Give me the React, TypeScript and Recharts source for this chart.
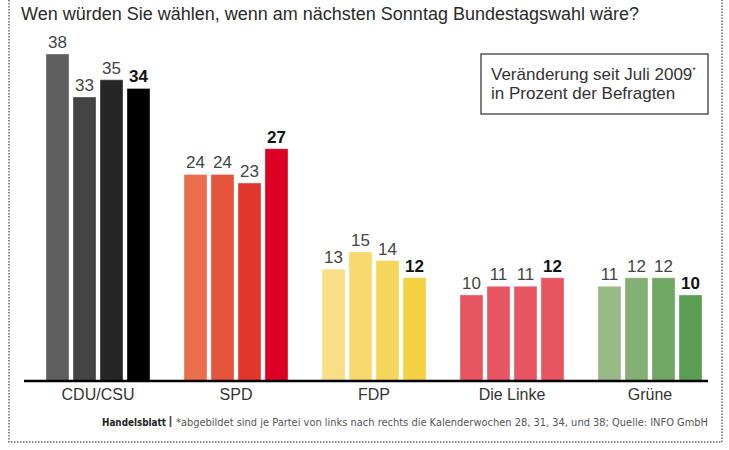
import React from 'react';
import { BarChart, Bar, XAxis, YAxis, Cell, LabelList } from 'recharts';

const parties = ['CDU/CSU', 'SPD', 'FDP', 'Die Linke', 'Grüne'];
const kw28 = [38, 24, 13, 10, 11];
const kw31 = [33, 24, 15, 11, 12];
const kw34 = [35, 23, 14, 11, 12];
const kw38 = [34, 27, 12, 12, 10];
const weeks = ['kw28', 'kw31', 'kw34', 'kw38'];

const partyColors = [
  ['#5f5f5f', '#444444', '#262626', '#000000'],
  ['#eb6f4c', '#e6553b', '#e0362c', '#dd0025'],
  ['#f9de88', '#f8d96e', '#f6d55b', '#f5d042'],
  ['#e75563', '#e75563', '#e75563', '#e75563'],
  ['#98ba86', '#85b075', '#71a764', '#5b9e52'],
];

const titleText = 'Wen würden Sie wählen, wenn am nächsten Sonntag Bundestagswahl wäre?';
const legendLine1 = 'Veränderung seit Juli 2009';
const legendLine2 = 'in Prozent der Befragten';
const footerBrand = 'Handelsblatt';
const footerNote = '*abgebildet sind je Partei von links nach rechts die Kalenderwochen 28, 31, 34, und 38; Quelle: INFO GmbH';

const data = parties.map((p, i) => ({
  party: p,
  kw28: kw28[i],
  kw31: kw31[i],
  kw34: kw34[i],
  kw38: kw38[i],
}));

const narrow = '"Liberation Sans Narrow", "DejaVu Sans Condensed", sans-serif';

export default function App() {
  return (
    <div
      style={{
        position: 'absolute',
        left: 0,
        top: 0,
        width: 729,
        height: 450,
        background: '#fff',
        fontFamily: '"Liberation Sans", Arial, sans-serif',
      }}
    >
      <BarChart
        width={729}
        height={450}
        data={data}
        margin={{ top: 54, left: 24, right: 21, bottom: 39 }}
        barGap={4}
      >
        <YAxis hide domain={[0, 38]} />
        <XAxis
          dataKey="party"
          height={30}
          interval={0}
          tickLine={false}
          axisLine={{ stroke: '#000', strokeWidth: 2.5 }}
          tick={{ fill: '#333', fontSize: 16 }}
          padding={{ left: 5, right: -11 }}
        />
        {weeks.map((w, j) => (
          <Bar
            key={w}
            dataKey={w}
            barSize={23}
            isAnimationActive={false}
            stroke="#ffffff"
            strokeOpacity={0.35}
            strokeWidth={1}
          >
            {parties.map((p, i) => (
              <Cell key={p} fill={partyColors[i][j]} />
            ))}
            <LabelList
              dataKey={w}
              position="top"
              offset={6}
              fill={j === 3 ? '#111' : '#444'}
              fontSize={17}
              fontWeight={j === 3 ? 'bold' : 'normal'}
            />
          </Bar>
        ))}
      </BarChart>
      <svg
        width={729}
        height={450}
        style={{ position: 'absolute', left: 0, top: 0, pointerEvents: 'none' }}
      >
        <path
          d="M9 0 V442 H722 V0"
          fill="none"
          stroke="#666"
          strokeWidth={1.5}
          strokeDasharray="1.5 1.5"
        />
        <text x={21} y={19.5} fontSize={17.5} fill="#2a2a2a" textLength={618} lengthAdjust="spacingAndGlyphs">
          {titleText}
        </text>
        <rect x={481} y={54} width={227} height={60} fill="none" stroke="#555" strokeWidth={1.5} />
        <text x={491} y={80} fontSize={17} fill="#333">
          {legendLine1}
          <tspan dy={-7} fontSize={9}>*</tspan>
        </text>
        <text x={491} y={98.5} fontSize={17} fill="#333">
          {legendLine2}
        </text>
        <text
          x={102}
          y={426}
          fontSize={11.3}
          fill="#222"
          fontWeight="bold"
          fontFamily={narrow}
          textLength={64}
          lengthAdjust="spacingAndGlyphs"
        >
          {footerBrand}
        </text>
        <line x1={170.5} y1={416} x2={170.5} y2={427} stroke="#555" strokeWidth={1.8} />
        <text
          x={176}
          y={426}
          fontSize={11.3}
          fill="#555"
          fontFamily={narrow}
          textLength={532}
          lengthAdjust="spacingAndGlyphs"
        >
          {footerNote}
        </text>
      </svg>
    </div>
  );
}
